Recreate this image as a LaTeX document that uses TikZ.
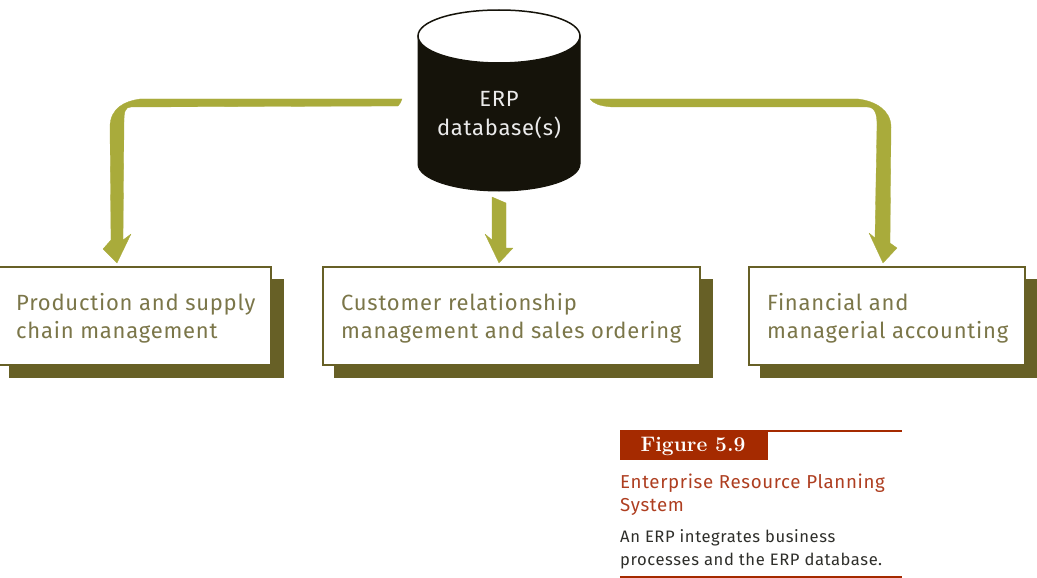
\documentclass[tikz,border=0pt]{standalone}
\usepackage{fontspec}
\setsansfont{Fira Sans}[LetterSpace=3.5]
\definecolor{dbblack}{HTML}{15130A}
\definecolor{flowgreen}{HTML}{A9AB3B}
\definecolor{boxolive}{HTML}{676026}
\definecolor{boxtext}{HTML}{7B7649}
\definecolor{figred}{HTML}{A52A00}
\definecolor{captitletext}{HTML}{AE3E20}
\definecolor{captext}{HTML}{2E2E2A}
\begin{document}
\begin{tikzpicture}[x=1pt,y=-1pt]
    % Define styles
    \tikzstyle{erpbox}=[rectangle, draw=boxolive, line width=2pt, fill=white, minimum height=98pt, inner sep=0pt]
    \tikzstyle{erpshadow}=[rectangle, fill=boxolive, minimum height=99pt, inner sep=0pt]
    \tikzstyle{boxlabel}=[anchor=west, align=left, inner sep=0pt, text=boxtext, font=\sffamily\fontsize{22}{28}\selectfont]
    \tikzstyle{flow}=[draw=flowgreen, line width=0.3pt, fill=flowgreen, line join=round]
    \tikzstyle{caprule}=[draw=figred, line width=1.6pt]
    \useasboundingbox (0,0) rectangle (1037,578);

    % Database
    \draw[draw=dbblack, line width=1pt, fill=dbblack] (418,36) -- (418,164) .. controls (418,179) and (454,191) .. (499,191) .. controls (544,191) and (580,179) .. (580,164) -- (580,36) -- cycle;
    \draw[draw=dbblack, line width=1.5pt, fill=white] (418,36) .. controls (418,21) and (454,10) .. (499,10) .. controls (544,10) and (580,21) .. (580,36) .. controls (580,51) and (544,63) .. (499,63) .. controls (454,63) and (418,51) .. (418,36) -- cycle;
    \node[align=center, text=white!92!black, inner sep=0pt, font=\sffamily\fontsize{22}{29}\selectfont] (db) at (499,115) {ERP\\database(s)};

    % Production box
    \node[erpshadow, minimum width=275pt] (prodshadow) at (146.5,328.5) {};
    \node[erpbox, minimum width=273pt] (prod) at (134.5,316) {};
    \node[boxlabel] (prodlabel) at (16,318) {Production and supply\\chain management};

    % Customer box
    \node[erpshadow, minimum width=379pt] (custshadow) at (523.5,328.5) {};
    \node[erpbox, minimum width=377pt] (cust) at (511.5,316) {};
    \node[boxlabel] (custlabel) at (341,318) {Customer relationship\\management and sales ordering};

    % Financial box
    \node[erpshadow, minimum width=277pt] (finshadow) at (898.5,328.5) {};
    \node[erpbox, minimum width=276pt] (fin) at (887,316) {};
    \node[boxlabel] (finlabel) at (767,318) {Financial and\\managerial accounting};

    % Connector ends
    \coordinate (prodfrom) at (402,99);
    \coordinate (prodto) at ([yshift=3pt]prod.north -| 117,0);
    \coordinate (custfrom) at (492,197);
    \coordinate (custto) at ([yshift=3pt]cust.north -| 499,0);
    \coordinate (finfrom) at (590,99);
    \coordinate (finto) at ([yshift=3pt]fin.north -| 883,0);

    % Db to production
    \draw[flow] (prodfrom) -- (140,99) .. controls (125,101) and (110,108) .. (110,127) -- (111,240) -- (103,249) -- (prodto) -- (131,234) -- (123,240) -- (124,122) .. controls (124,112) and (125,107) .. (131,107) -- (398,106) .. controls (400,104) and (401,102) .. (prodfrom) -- cycle;

    % Db to customer
    \draw[flow] (custfrom) -- (506,203) -- (506,248) -- (513,248) -- (custto) -- (485,234) -- (492,240) -- cycle;

    % Db to financial
    \draw[flow] (finfrom) -- (858,99) .. controls (875,101) and (891,110) .. (891,127) -- (890,243) -- (897,248) -- (finto) -- (869,233) -- (875,238) -- (877,125) .. controls (877,114) and (875,107) .. (867,107) -- (612,107) .. controls (600,106) and (594,104) .. (finfrom) -- cycle;

    % Figure caption
    \node[fill=figred, minimum width=148pt, minimum height=30pt, inner sep=0pt] (figtag) at (694,445) {};
    \node[text=white, inner sep=0pt, font=\bfseries\fontsize{21}{24}\selectfont] (figlabel) at (693,446) {Figure 5.9};
    \coordinate (toprule) at (902,431);
    \coordinate (botrule) at (902,577);
    \draw[caprule] (figtag.north east |- toprule) -- (toprule);
    \node[anchor=north west, align=left, inner sep=0pt, text=captitletext, font=\sffamily\fontsize{18.7}{23}\selectfont] (captitle) at (620,474) {Enterprise Resource Planning\\System};
    \node[anchor=north west, align=left, inner sep=0pt, text=captext, font=\sffamily\fontsize{16.6}{23}\selectfont] (capnote) at (620,529) {An ERP integrates business\\processes and the ERP database.};
    \draw[caprule] (figtag.west |- botrule) -- (botrule);
\end{tikzpicture}
\end{document}
